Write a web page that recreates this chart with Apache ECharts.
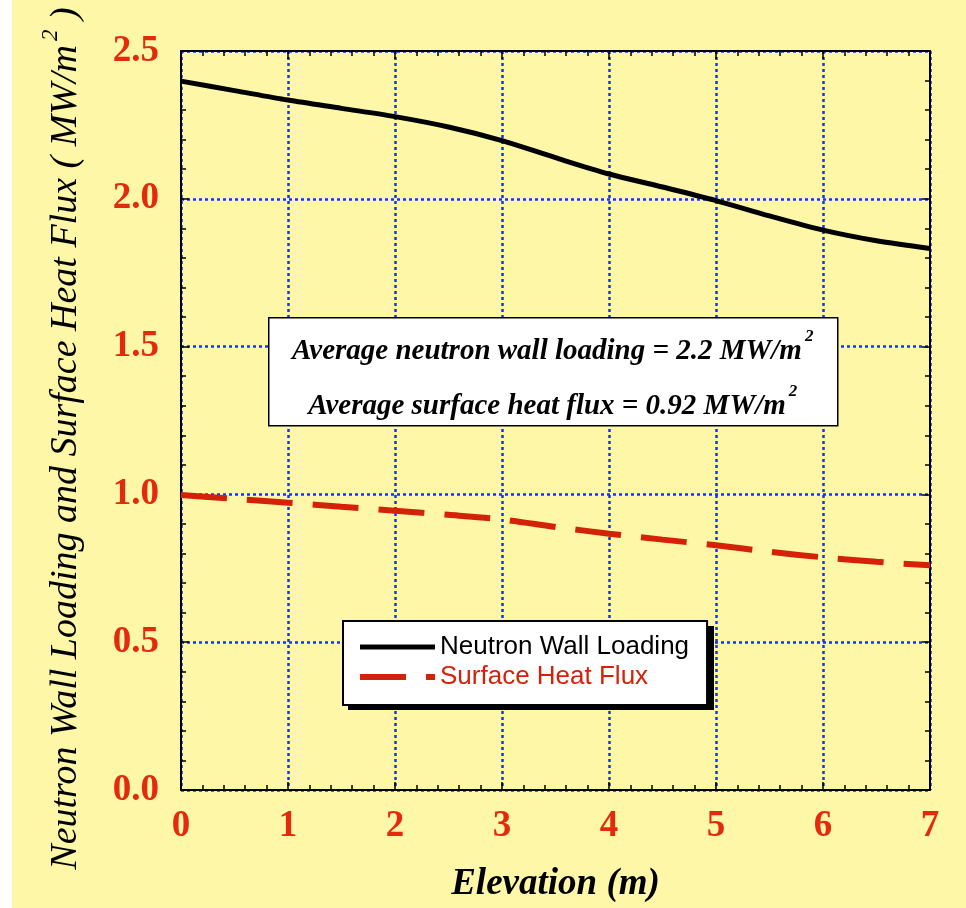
<!DOCTYPE html>
<html>
<head>
<meta charset="utf-8">
<title>Neutron Wall Loading and Surface Heat Flux</title>
<script src="https://cdn.jsdelivr.net/npm/echarts@6/dist/echarts.min.js"></script>
<style>
  html, body { margin: 0; padding: 0; background: #fff; }
  #chart { width: 966px; height: 908px; }
</style>
</head>
<body>
<div id="chart"></div>
<script>
// elevation (m)
const elevation = [0, 0.5, 1, 1.5, 2, 2.5, 3, 3.5, 4, 4.5, 5, 5.5, 6, 6.5, 7];
// MW/m2
const wallLoading = [2.398, 2.366, 2.334, 2.306, 2.278, 2.243, 2.197, 2.139, 2.084, 2.040, 1.994, 1.942, 1.894, 1.858, 1.832];
const heatFlux = [0.998, 0.985, 0.972, 0.958, 0.945, 0.931, 0.915, 0.890, 0.867, 0.847, 0.828, 0.806, 0.787, 0.772, 0.760];
const seriesNames = ['Neutron Wall Loading', 'Surface Heat Flux'];
const notes = ['Average neutron wall loading = 2.2 MW/m', 'Average surface heat flux = 0.92 MW/m'];

const red = '#e42a0c';
const lineRed = '#d42208';
const serif = '"Liberation Serif", "Times New Roman", serif';
const gridBlue = '#1232ff';

const chart = echarts.init(document.getElementById('chart'));

const pairs = arr => elevation.map((x, i) => [x, arr[i]]);

function axisCommon(showLabel) {
    return {
        axisLine: { show: true, onZero: false, lineStyle: { color: '#000', width: 2 } },
        axisTick: { show: true, inside: true, length: 8, lineStyle: { color: '#000', width: 1.5 } },
        minorTick: { show: true, splitNumber: 5, length: 5, lineStyle: { color: '#000', width: 1.5 } },
        axisLabel: showLabel ? {
            color: red, fontFamily: serif, fontWeight: 'bold', fontSize: 37
        } : { show: false },
        splitLine: { show: false }
    };
}

const gridLine = { show: true, lineStyle: { color: gridBlue, width: 2.5, type: [3, 3] } };

const noteRich = {
    b: { fontFamily: serif, fontWeight: 'bold', fontStyle: 'italic', fontSize: 29, lineHeight: 38, fill: '#000', verticalAlign: 'bottom' },
    s: { fontFamily: serif, fontWeight: 'bold', fontStyle: 'italic', fontSize: 17, lineHeight: 38, fill: '#000', verticalAlign: 'top', padding: [0, 0, 0, 3] }
};

let option = {
    backgroundColor: '#fef7a8',
    animation: false,
    grid: { left: 181, right: 36, top: 51, bottom: 116 },
    legend: {
        orient: 'vertical',
        left: 343,
        top: 621,
        padding: [12, 18, 14, 14],
        itemGap: 2,
        itemWidth: 75,
        itemHeight: 14,
        backgroundColor: '#fff',
        borderColor: '#000',
        borderWidth: 2,
        borderRadius: 0,
        itemStyle: { opacity: 0 },
        lineStyle: { width: 'inherit' },
        textStyle: { fontFamily: '"Liberation Sans", Arial, sans-serif', fontSize: 26, lineHeight: 28 },
        data: [
            { name: seriesNames[0], textStyle: { color: '#000' } },
            { name: seriesNames[1], textStyle: { color: lineRed } }
        ]
    },
    xAxis: [
        Object.assign(axisCommon(true), {
            type: 'value', min: 0, max: 7, interval: 1, position: 'bottom',
            splitLine: gridLine,
            name: 'Elevation (m)',
            nameLocation: 'middle',
            nameGap: 76,
            nameTextStyle: { color: '#000', fontFamily: serif, fontWeight: 'bold', fontStyle: 'italic', fontSize: 37 },
            axisLabel: { color: red, fontFamily: serif, fontWeight: 'bold', fontSize: 37, margin: 18 }
        }),
        Object.assign(axisCommon(false), {
            type: 'value', min: 0, max: 7, interval: 1, position: 'top'
        })
    ],
    yAxis: [
        Object.assign(axisCommon(true), {
            type: 'value', min: 0, max: 2.5, interval: 0.5, position: 'left',
            splitLine: gridLine,
            name: '{t|Neutron Wall Loading and Surface Heat Flux ( MW/m}{s|2}{t| )}',
            nameLocation: 'middle',
            nameGap: 96,
            nameTextStyle: {
                padding: [0, 36, 0, 0],
                rich: {
                    t: { color: '#000', fontFamily: serif, fontStyle: 'italic', fontSize: 38, lineHeight: 46, verticalAlign: 'bottom' },
                    s: { color: '#000', fontFamily: serif, fontStyle: 'italic', fontSize: 23, lineHeight: 46, verticalAlign: 'top', padding: [0, 0, 0, 4] }
                }
            },
            axisLabel: {
                color: red, fontFamily: serif, fontWeight: 'bold', fontSize: 37, margin: 22,
                formatter: v => v.toFixed(1)
            }
        }),
        Object.assign(axisCommon(false), {
            type: 'value', min: 0, max: 2.5, interval: 0.5, position: 'right'
        })
    ],
    graphic: [
        {
            type: 'rect', left: 0, top: 0, silent: true,
            shape: { width: 12, height: 908 },
            style: { fill: '#fff' }
        },
        {
            // drop shadow behind the legend box
            type: 'rect', left: 348, top: 626, z: 3, silent: true,
            shape: { width: 366, height: 84 },
            style: { fill: '#000' }
        },
        {
            type: 'group', left: 268, top: 317,
            children: [
                {
                    type: 'rect', z: 100,
                    shape: { x: 0, y: 0, width: 569, height: 108 },
                    style: { fill: '#fff', stroke: '#000', lineWidth: 1.5 }
                },
                {
                    type: 'text', z: 101,
                    style: {
                        x: 284, y: 29, align: 'center', verticalAlign: 'middle',
                        text: '{b|' + notes[0] + '}{s|2}',
                        rich: noteRich
                    }
                },
                {
                    type: 'text', z: 101,
                    style: {
                        x: 284, y: 84, align: 'center', verticalAlign: 'middle',
                        text: '{b|' + notes[1] + '}{s|2}',
                        rich: noteRich
                    }
                }
            ]
        }
    ],
    series: [
        {
            name: seriesNames[0],
            type: 'line',
            smooth: 0.3,
            symbol: 'none',
            data: pairs(wallLoading),
            lineStyle: { color: '#000', width: 5 },
            itemStyle: { color: '#000' },
            z: 5
        },
        {
            name: seriesNames[1],
            type: 'line',
            smooth: 0.3,
            symbol: 'none',
            data: pairs(heatFlux),
            lineStyle: { color: lineRed, width: 6, type: [46, 20], cap: 'butt' },
            itemStyle: { color: lineRed },
            z: 5
        }
    ]
};

chart.setOption(option);
</script>
</body>
</html>
